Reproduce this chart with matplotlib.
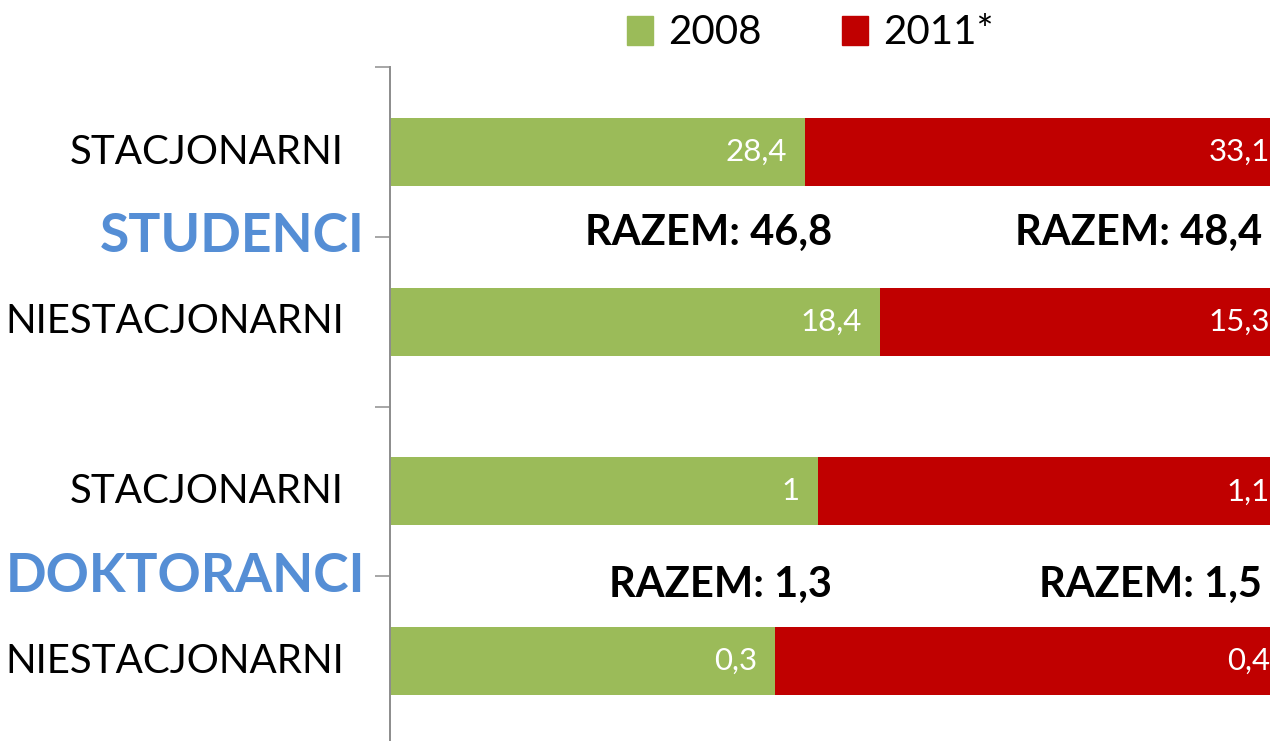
import matplotlib
matplotlib.use("Agg")
import matplotlib.pyplot as plt
from matplotlib.patches import Patch

plt.rcParams['font.family'] = ['Lato', 'DejaVu Sans']

# ---- data ----
rows = ["STACJONARNI", "NIESTACJONARNI", "STACJONARNI", "NIESTACJONARNI"]
groups = ["STUDENCI", "DOKTORANCI"]
series_names = ["2008", "2011*"]
values_2008 = [28.4, 18.4, 1.0, 0.3]
values_2011 = [33.1, 15.3, 1.1, 0.4]
colors = ["#9BBB59", "#C00000"]

def fmt(v):
    return f"{v:g}".replace(".", ",")

W, H = 1270, 741
fig = plt.figure(figsize=(W / 100, H / 100), dpi=100)
px_unit = 84.83
top_px = 67.2
ax_h = 8 * px_unit
ax = fig.add_axes([390 / W, (H - top_px - ax_h) / H, 898 / W, ax_h / H])

ypos = [1, 3, 5, 7]
group_pos = [2, 6]
tot = [a + b for a, b in zip(values_2008, values_2011)]
f08 = [a / t for a, t in zip(values_2008, tot)]
f11 = [b / t for b, t in zip(values_2011, tot)]

ax.barh(ypos, f08, height=0.8, color=colors[0], label=series_names[0])
ax.barh(ypos, f11, left=f08, height=0.8, color=colors[1], label=series_names[1])

# value labels inside segment ends
for y, a, b, va, vb in zip(ypos, f08, f11, values_2008, values_2011):
    ax.annotate(fmt(va), xy=(a, y), xytext=(-18, 0), textcoords='offset pixels',
                ha='right', va='center', color='white', fontsize=22.5)
    ax.annotate(fmt(vb), xy=(a + b, y), xytext=(-18, 0), textcoords='offset pixels',
                ha='right', va='center', color='white', fontsize=22.5)

ax.set_xlim(0, 1)
ax.set_ylim(8, 0)

# axis styling
for s in ['top', 'right', 'bottom']:
    ax.spines[s].set_visible(False)
ax.spines['left'].set_color('#8C8C8C')
ax.spines['left'].set_linewidth(1.4)
ax.set_xticks([])
ax.set_yticks([0, 2, 4, 6, 8])
ax.set_yticklabels([])
ax.tick_params(axis='y', length=10.8, width=1.4, color='#A6A6A6')

# row labels
for y, lab in zip(ypos, rows):
    ax.annotate(lab, xy=(0, y), xycoords=('axes fraction', 'data'),
                xytext=(-46, 0), textcoords='offset pixels',
                ha='right', va='center', fontsize=29, color='black')

# group labels
for y, lab in zip(group_pos, groups):
    ax.annotate(lab, xy=(0, y), xycoords=('axes fraction', 'data'),
                xytext=(-25, 0), textcoords='offset pixels',
                ha='right', va='center', fontsize=38.5, fontweight='bold',
                color='#558ED5')

# totals
tot08 = [values_2008[0] + values_2008[1], values_2008[2] + values_2008[3]]
tot11 = [values_2011[0] + values_2011[1], values_2011[2] + values_2011[3]]
baseline_offsets = [-8, -21]  # pixels below the group tick (negative = down)
for y, t8, t11, off in zip(group_pos, tot08, tot11, baseline_offsets):
    ax.annotate(f"RAZEM: {fmt(round(t8, 1))}", xy=(0.492, y),
                xycoords=('axes fraction', 'data'), xytext=(0, off),
                textcoords='offset pixels', ha='right', va='baseline',
                fontsize=30, fontweight='bold')
    ax.annotate(f"RAZEM: {fmt(round(t11, 1))}", xy=(0.971, y),
                xycoords=('axes fraction', 'data'), xytext=(0, off),
                textcoords='offset pixels', ha='right', va='baseline',
                fontsize=30, fontweight='bold')

handles = [Patch(color=colors[0]), Patch(color=colors[1])]
fig.legend(handles, series_names, loc='center', bbox_to_anchor=(810 / W, 1 - 33 / H),
           ncol=2, frameon=False, fontsize=29, handlelength=0.65, handleheight=0.7,
           handletextpad=0.37, columnspacing=2.0, borderpad=0)

fig.savefig("out.png", dpi=100)
